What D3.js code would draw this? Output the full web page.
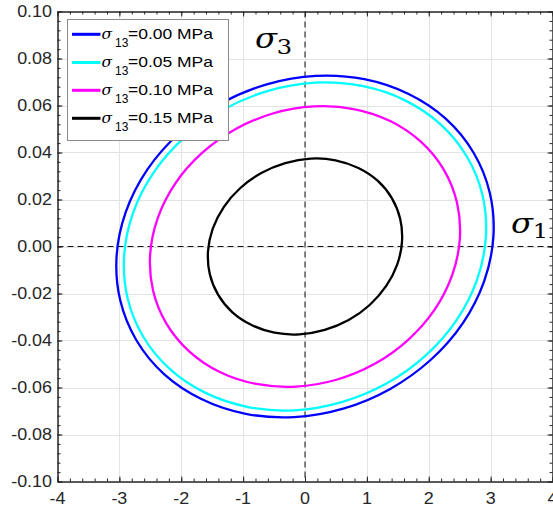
<!DOCTYPE html>
<html><head><meta charset="utf-8">
<script src="https://cdn.jsdelivr.net/npm/d3@7"></script>
<style>body{margin:0;background:#fff}svg{display:block}</style>
</head><body><svg id="c" width="553" height="509"></svg>
<script>
// ---- data ----
const xTicks = [-4, -3, -2, -1, 0, 1, 2, 3, 4];
const yTicks = [-0.10, -0.08, -0.06, -0.04, -0.02, 0.00, 0.02, 0.04, 0.06, 0.08, 0.10];
const seriesLabels = ["0.00", "0.05", "0.10", "0.15"];
const seriesColors = ["#0000ff", "#00ffff", "#ff00ff", "#000000"];

// sigma13 = 0.00 MPa  [sigma1, sigma3]
const s000 = [[2.278,0.0543],[1.675,0.0649],[0.958,0.0712],[0.176,0.0726],[-0.618,0.0690],[-1.370,0.0607],
  [-2.029,0.0483],[-2.549,0.0327],[-2.896,0.0147],[-3.045,-0.0042],[-2.987,-0.0228],[-2.725,-0.0399],
  [-2.278,-0.0543],[-1.675,-0.0649],[-0.958,-0.0712],[-0.176,-0.0726],[0.618,-0.0690],[1.370,-0.0607],
  [2.029,-0.0483],[2.549,-0.0327],[2.896,-0.0147],[3.045,0.0042],[2.987,0.0228],[2.725,0.0399]];
// sigma13 = 0.05 MPa
const s005 = [[2.187,0.0521],[1.608,0.0623],[0.920,0.0683],[0.169,0.0697],[-0.594,0.0662],[-1.316,0.0583],
  [-1.948,0.0464],[-2.447,0.0314],[-2.780,0.0142],[-2.923,-0.0040],[-2.868,-0.0219],[-2.616,-0.0383],
  [-2.187,-0.0521],[-1.608,-0.0623],[-0.920,-0.0683],[-0.169,-0.0697],[0.594,-0.0662],[1.316,-0.0583],
  [1.948,-0.0464],[2.447,-0.0314],[2.780,-0.0142],[2.923,0.0040],[2.868,0.0219],[2.616,0.0383]];
// sigma13 = 0.10 MPa
const s010 = [[1.872,0.0446],[1.377,0.0534],[0.787,0.0585],[0.145,0.0596],[-0.508,0.0567],[-1.127,0.0499],
  [-1.668,0.0397],[-2.095,0.0269],[-2.380,0.0121],[-2.503,-0.0035],[-2.455,-0.0188],[-2.240,-0.0328],
  [-1.872,-0.0446],[-1.377,-0.0534],[-0.787,-0.0585],[-0.145,-0.0596],[0.508,-0.0567],[1.127,-0.0499],
  [1.668,-0.0397],[2.095,-0.0269],[2.380,-0.0121],[2.503,0.0035],[2.455,0.0188],[2.240,0.0328]];
// sigma13 = 0.15 MPa
const s015 = [[1.173,0.0280],[0.863,0.0334],[0.493,0.0367],[0.091,0.0374],[-0.319,0.0355],[-0.706,0.0313],
  [-1.045,0.0249],[-1.313,0.0168],[-1.491,0.0076],[-1.568,-0.0022],[-1.538,-0.0118],[-1.403,-0.0206],
  [-1.173,-0.0280],[-0.863,-0.0334],[-0.493,-0.0367],[-0.091,-0.0374],[0.319,-0.0355],[0.706,-0.0313],
  [1.045,-0.0249],[1.313,-0.0168],[1.491,-0.0076],[1.568,0.0022],[1.538,0.0118],[1.403,0.0206]];
const series = [s000, s005, s010, s015];

// ---- layout ----
const L = 57.5, R = 552.5, T = 11.5, B = 481.5;
const svg = d3.select("#c");
const x = d3.scaleLinear().domain([-4, 4]).range([L, R]);
const y = d3.scaleLinear().domain([-0.1, 0.1]).range([B, T]);
const axisColor = "#262626";
const sansFont = "'Liberation Sans', Arial, sans-serif";
const serifFont = "'DejaVu Serif', 'Liberation Serif', serif";

// grid
const grid = svg.append("g").attr("stroke", "#e3e3e3").attr("stroke-width", 1);
grid.selectAll(".gx").data(xTicks).join("line")
  .attr("x1", d => Math.round(x(d)) + 0.5).attr("x2", d => Math.round(x(d)) + 0.5)
  .attr("y1", T).attr("y2", B);
grid.selectAll(".gy").data(yTicks).join("line")
  .attr("y1", d => Math.round(y(d)) + 0.5).attr("y2", d => Math.round(y(d)) + 0.5)
  .attr("x1", L).attr("x2", R);

// dashed principal axes
svg.append("line").attr("x1", L).attr("x2", R).attr("y1", y(0)).attr("y2", y(0))
  .attr("stroke", "#111").attr("stroke-width", 1).attr("stroke-dasharray", "6,4");
svg.append("line").attr("x1", x(0)).attr("x2", x(0)).attr("y1", T).attr("y2", B)
  .attr("stroke", "#111").attr("stroke-width", 1).attr("stroke-dasharray", "6,4");

// curves
const line = d3.line().x(d => x(d[0])).y(d => y(d[1])).curve(d3.curveCatmullRomClosed.alpha(0.5));
svg.append("g").selectAll("path").data(series).join("path")
  .attr("d", line).attr("fill", "none")
  .attr("stroke", (d, i) => seriesColors[i]).attr("stroke-width", 2.3);

// axes (ticks inward, box)
const xMinor = d3.range(-4, 4.001, 0.2).map(v => +v.toFixed(2));
const yMinor = d3.range(-0.1, 0.1001, 0.004).map(v => +v.toFixed(3));
function addAxis(gen, tr, vals, size) {
  const g = svg.append("g").attr("transform", tr)
    .call(gen.tickValues(vals).tickSize(-size).tickSizeOuter(0).tickFormat(""));
  g.selectAll("line").attr("stroke", axisColor);
  g.select(".domain").attr("stroke", axisColor);
  return g;
}
addAxis(d3.axisBottom(x), `translate(0,${B})`, xMinor, 3);
addAxis(d3.axisBottom(x), `translate(0,${B})`, xTicks, 5);
addAxis(d3.axisTop(x), `translate(0,${T})`, xMinor, 3);
addAxis(d3.axisTop(x), `translate(0,${T})`, xTicks, 5);
addAxis(d3.axisLeft(y), `translate(${L},0)`, yMinor, 3);
addAxis(d3.axisLeft(y), `translate(${L},0)`, yTicks, 5);
addAxis(d3.axisRight(y), `translate(${R},0)`, yMinor, 3);
addAxis(d3.axisRight(y), `translate(${R},0)`, yTicks, 5);

// tick labels
svg.append("g").selectAll("text").data(xTicks).join("text")
  .attr("transform", d => `translate(${x(d)},${B + 22.5}) scale(1.12,1)`)
  .attr("text-anchor", "middle").attr("font-family", sansFont).attr("font-size", 16)
  .attr("fill", axisColor).text(d => d3.format("d")(d).replace("−", "-"));
svg.append("g").selectAll("text").data(yTicks).join("text")
  .attr("transform", d => `translate(${L - 5.5},${y(d) + 5.8}) scale(1.12,1)`)
  .attr("text-anchor", "end").attr("font-family", sansFont).attr("font-size", 16)
  .attr("fill", axisColor).text(d => d3.format(".2f")(d).replace("−", "-"));

// legend
const lg = svg.append("g");
lg.append("rect").attr("x", 67.5).attr("y", 19.5).attr("width", 161).attr("height", 121)
  .attr("fill", "#fff").attr("stroke", "#8a8a8a").attr("stroke-width", 1);
const rowY = [34.3, 62.5, 90.3, 118.3];
seriesLabels.forEach((lab, i) => {
  const ry = rowY[i];
  lg.append("line").attr("x1", 72).attr("x2", 100.5).attr("y1", ry).attr("y2", ry)
    .attr("stroke", seriesColors[i]).attr("stroke-width", 3);
  const t = lg.append("text").attr("fill", "#000").attr("font-family", sansFont);
  t.append("tspan").attr("x", 101.5).attr("y", ry + 4.3)
    .attr("font-family", serifFont).attr("font-style", "italic").attr("font-size", 15.5).text("σ");
  t.append("tspan").attr("x", 115).attr("y", ry + 12.5).attr("font-size", 12).text("13");
  t.append("tspan").attr("x", 128).attr("y", ry + 4.6).attr("font-size", 14.5)
    .attr("textLength", 85).attr("lengthAdjust", "spacingAndGlyphs").text("=" + lab + " MPa");
});

// axis annotations sigma3 / sigma1
function sigma(xp, yp, sub, subDx, subDy) {
  const t = svg.append("text").attr("transform", `translate(${xp},${yp}) scale(1.15,1)`)
    .attr("fill", "#000").attr("font-family", serifFont);
  t.append("tspan").attr("x", 0).attr("y", 0).attr("font-style", "italic").attr("font-size", 28).text("σ");
  t.append("tspan").attr("x", subDx).attr("y", subDy).attr("font-size", 21).text(sub);
}
sigma(255, 47.5, "3", 19, 6);
sigma(511, 233.3, "1", 19, 5);
</script></body></html>
